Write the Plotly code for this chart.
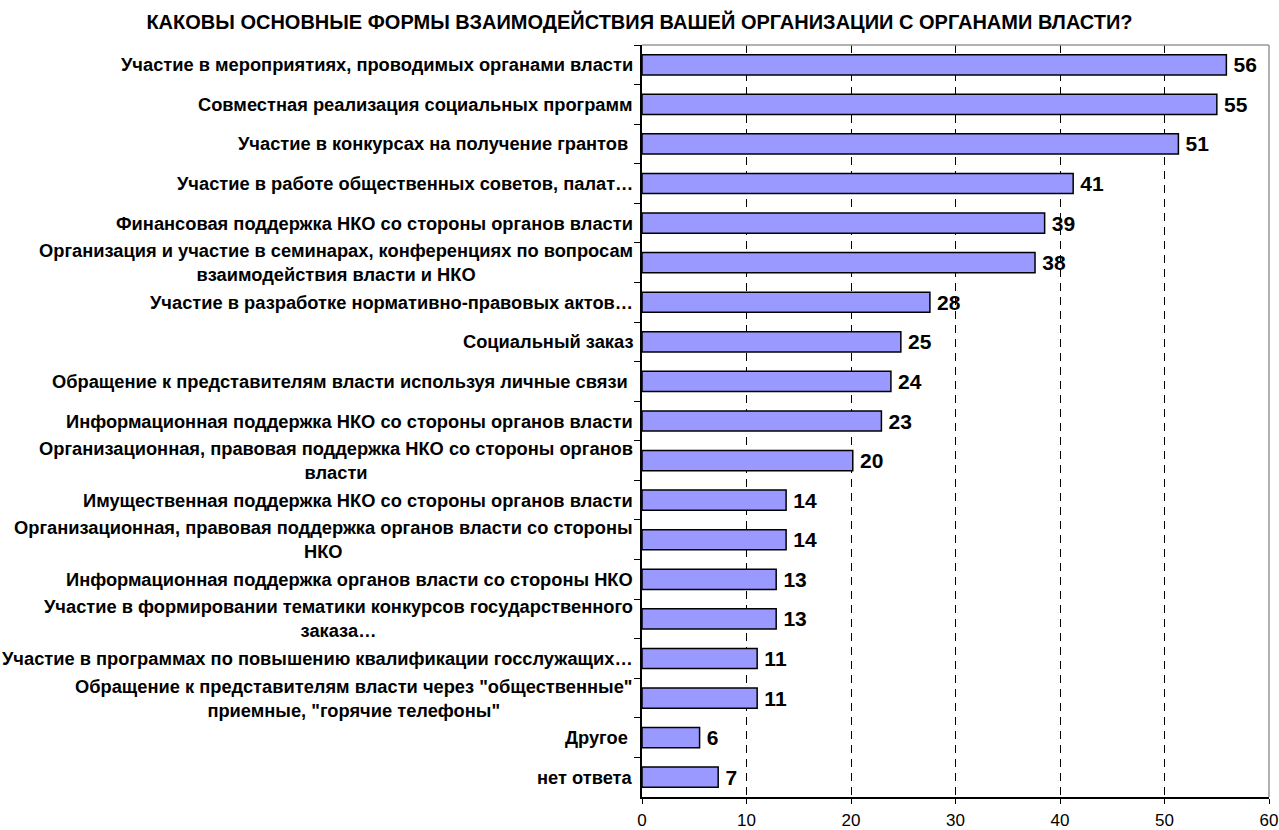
import plotly.graph_objects as go

title_text = "КАКОВЫ ОСНОВНЫЕ ФОРМЫ ВЗАИМОДЕЙСТВИЯ ВАШЕЙ ОРГАНИЗАЦИИ С ОРГАНАМИ ВЛАСТИ?"

categories = [
    "Участие в мероприятиях, проводимых органами власти",
    "Совместная реализация социальных программ",
    "Участие в конкурсах на получение грантов ",
    "Участие в работе общественных советов, палат…",
    "Финансовая поддержка НКО со стороны органов власти",
    "Организация и участие в семинарах, конференциях по вопросам<br>взаимодействия власти и НКО",
    "Участие в разработке нормативно-правовых актов…",
    "Социальный заказ",
    "Обращение к представителям власти используя личные связи ",
    "Информационная поддержка НКО со стороны органов власти",
    "Организационная, правовая поддержка НКО со стороны органов<br>власти",
    "Имущественная поддержка НКО со стороны органов власти",
    "Организационная, правовая поддержка органов власти со стороны<br>НКО",
    "Информационная поддержка органов власти со стороны НКО",
    "Участие в формировании тематики конкурсов государственного<br>заказа…",
    "Участие в программах по повышению квалификации госслужащих…",
    "Обращение к представителям власти через \"общественные\"<br>приемные, \"горячие телефоны\"",
    "Другое ",
    "нет ответа",
]

values = [55.92, 55.01, 51.33, 41.26, 38.53, 37.61, 27.55, 24.77, 23.82, 22.91,
          20.17, 13.79, 13.79, 12.84, 12.84, 11.02, 11.02, 5.51, 7.29]

x_ticks = [0, 10, 20, 30, 40, 50, 60]

FONT = "Liberation Sans, Arial, sans-serif"

fig = go.Figure()
fig.add_trace(go.Bar(
    x=values,
    y=categories,
    orientation="h",
    marker=dict(color="#9999FF", line=dict(color="#000000", width=1.5)),
    text=["\u2009" + f"{v:.0f}" for v in values],
    textposition="outside",
    constraintext="none",
    textfont=dict(family=FONT, size=21, color="#000000", weight="bold"),
    cliponaxis=False,
    hoverinfo="skip",
))

annotations = []
for c in categories:
    label = c.rstrip(" ") + ("\u00a0" if c.endswith(" ") else "")
    annotations.append(dict(
        x=0, xref="paper", y=c, yref="y",
        xanchor="right", yanchor="middle", align="center",
        xshift=-7,
        text="<b>" + label + "</b>",
        showarrow=False,
        font=dict(family=FONT, size=18.3, color="#000000"),
    ))

fig.update_layout(
    width=1279, height=830,
    margin=dict(l=642, r=10, t=45, b=33, autoexpand=False),
    paper_bgcolor="white", plot_bgcolor="white",
    showlegend=False,
    bargap=0.49,
    title=dict(text="<b>" + title_text + "</b>", x=0.5, xref="container", xanchor="center",
               y=0.973, yref="container", yanchor="middle",
               font=dict(family=FONT, size=20, color="#000000")),
    annotations=annotations,
    shapes=[
        dict(type="line", xref="paper", yref="paper", x0=0, x1=1, y0=1, y1=1,
             line=dict(color="#999999", width=1.5)),
        dict(type="line", xref="paper", yref="paper", x0=1, x1=1, y0=0, y1=1,
             line=dict(color="#999999", width=1.5)),
    ],
)

fig.update_xaxes(
    range=[0, 60], tickvals=x_ticks, ticktext=[str(t) for t in x_ticks],
    showgrid=True, gridcolor="#000000", gridwidth=1, griddash="8px,6px",
    showline=True, linecolor="#000000", linewidth=1.5,
    ticks="outside", ticklen=5, tickcolor="#000000", ticklabelstandoff=2,
    tickfont=dict(family=FONT, size=17, color="#000000"),
    zeroline=False, fixedrange=True, automargin=False,
)
fig.update_yaxes(
    autorange="reversed", showticklabels=False,
    showline=True, linecolor="#000000", linewidth=1.5,
    ticks="outside", ticklen=6, tickcolor="#000000", tickson="boundaries",
    showgrid=False, zeroline=False, fixedrange=True, automargin=False,
)

fig.write_html("out.html", config={"displayModeBar": False},
               post_script="document.body.style.margin='0';")
